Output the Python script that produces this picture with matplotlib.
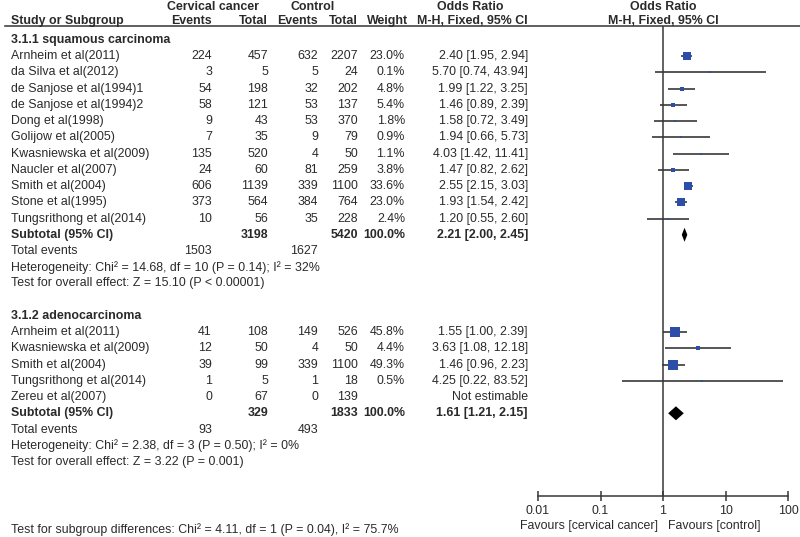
import numpy as np
import matplotlib
matplotlib.use("Agg")
import matplotlib.pyplot as plt
from matplotlib.patches import Polygon

plt.rcParams['font.family'] = ['Liberation Sans', 'DejaVu Sans']

# ---- data: squamous carcinoma
studies_sq = ['Arnheim et al(2011)', 'da Silva et al(2012)', 'de Sanjose et al(1994)1',
              'de Sanjose et al(1994)2', 'Dong et al(1998)', 'Golijow et al(2005)',
              'Kwasniewska et al(2009)', 'Naucler et al(2007)', 'Smith et al(2004)',
              'Stone et al(1995)', 'Tungsrithong et al(2014)']
ev_ca_sq = [224, 3, 54, 58, 9, 7, 135, 24, 606, 373, 10]
tot_ca_sq = [457, 5, 198, 121, 43, 35, 520, 60, 1139, 564, 56]
ev_ct_sq = [632, 5, 32, 53, 53, 9, 4, 81, 339, 384, 35]
tot_ct_sq = [2207, 24, 202, 137, 370, 79, 50, 259, 1100, 764, 228]
weight_sq = [23.0, 0.1, 4.8, 5.4, 1.8, 0.9, 1.1, 3.8, 33.6, 23.0, 2.4]
or_sq = [2.40, 5.70, 1.99, 1.46, 1.58, 1.94, 4.03, 1.47, 2.55, 1.93, 1.20]
lo_sq = [1.95, 0.74, 1.22, 0.89, 0.72, 0.66, 1.42, 0.82, 2.15, 1.54, 0.55]
hi_sq = [2.94, 43.94, 3.25, 2.39, 3.49, 5.73, 11.41, 2.62, 3.03, 2.42, 2.60]
sub_sq = (2.21, 2.00, 2.45)
totals_sq = (3198, 5420)
events_sq = (1503, 1627)
het_sq = 'Heterogeneity: Chi\u00b2 = 14.68, df = 10 (P = 0.14); I\u00b2 = 32%'
eff_sq = 'Test for overall effect: Z = 15.10 (P < 0.00001)'

# ---- data: adenocarcinoma
studies_ad = ['Arnheim et al(2011)', 'Kwasniewska et al(2009)', 'Smith et al(2004)',
              'Tungsrithong et al(2014)', 'Zereu et al(2007)']
ev_ca_ad = [41, 12, 39, 1, 0]
tot_ca_ad = [108, 50, 99, 5, 67]
ev_ct_ad = [149, 4, 339, 1, 0]
tot_ct_ad = [526, 50, 1100, 18, 139]
weight_ad = [45.8, 4.4, 49.3, 0.5, None]
or_ad = [1.55, 3.63, 1.46, 4.25, None]
lo_ad = [1.00, 1.08, 0.96, 0.22, None]
hi_ad = [2.39, 12.18, 2.23, 83.52, None]
sub_ad = (1.61, 1.21, 2.15)
totals_ad = (329, 1833)
events_ad = (93, 493)
het_ad = 'Heterogeneity: Chi\u00b2 = 2.38, df = 3 (P = 0.50); I\u00b2 = 0%'
eff_ad = 'Test for overall effect: Z = 3.22 (P = 0.001)'

subgroup_test = 'Test for subgroup differences: Chi\u00b2 = 4.11, df = 1 (P = 0.04), I\u00b2 = 75.7%'
ticks = [0.01, 0.1, 1, 10, 100]
tick_labels = ['0.01', '0.1', '1', '10', '100']

W, H = 800, 537
fig = plt.figure(figsize=(W / 100, H / 100), dpi=100)
ax = fig.add_axes([0, 0, 1, 1])
ax.set_xlim(0, W)
ax.set_ylim(H, 0)
ax.axis('off')

TXT = '#2a2a2a'
FS = 8.9
BLUE = '#2d4ea8'
LINE = '#383838'

# forest panel, y in same pixel units
top, bot = 26, 496
fx0, fx1 = 538, 788
fax = fig.add_axes([fx0 / W, (H - bot) / H, (fx1 - fx0) / W, (bot - top) / H])
fax.set_xscale('log')
fax.set_xlim(0.01, 100)
fax.set_ylim(bot, top)
fax.patch.set_alpha(0)
for s in ['top', 'left', 'right']:
    fax.spines[s].set_visible(False)
fax.spines['bottom'].set_color(LINE)
fax.spines['bottom'].set_linewidth(1.1)
fax.set_yticks([])
fax.set_xticks(ticks)
fax.set_xticklabels(tick_labels, fontsize=FS, color=TXT)
fax.minorticks_off()
fax.tick_params(axis='x', direction='inout', length=7, width=1.1, color=LINE, pad=3)
fax.axvline(1, color=LINE, lw=1.1)

# column positions (right aligned)
c_ev1, c_tot1, c_ev2, c_tot2, c_w, c_or = 212, 268, 318, 358, 405, 528
xname = 11


def row_y(r):
    return 40 + 16.23 * r


def t(x, r, s, ha='right', bold=False):
    ax.text(x, row_y(r), s, ha=ha, va='center', fontsize=FS, color=TXT,
            fontweight='bold' if bold else 'normal')


def head(x, y, s, ha='center'):
    ax.text(x, y, s, ha=ha, va='center', fontsize=FS, color=TXT, fontweight='bold')


# headers
head(213, 6.5, 'Cervical cancer')
head(313, 6.5, 'Control')
head(470, 6.5, 'Odds Ratio')
head(663, 6.5, 'Odds Ratio')
hy = 21
head(xname, hy, 'Study or Subgroup', ha='left')
head(c_ev1, hy, 'Events', ha='right')
head(c_tot1, hy, 'Total', ha='right')
head(c_ev2, hy, 'Events', ha='right')
head(c_tot2, hy, 'Total', ha='right')
head(c_w + 3, hy, 'Weight', ha='right')
head(c_or, hy, 'M-H, Fixed, 95% CI', ha='right')
head(663, hy, 'M-H, Fixed, 95% CI')
ax.plot([5, 800], [26, 26], color='#444444', lw=1.2)


def section(r0, title, studies, e1, n1, e2, n2, w, orv, lo, hi, sub, totals, events, het, eff):
    t(xname, r0, title, ha='left', bold=True)
    for i, name in enumerate(studies):
        r = r0 + 1 + i
        t(xname, r, name, ha='left')
        t(c_ev1, r, str(e1[i]))
        t(c_tot1, r, str(n1[i]))
        t(c_ev2, r, str(e2[i]))
        t(c_tot2, r, str(n2[i]))
        if orv[i] is None:
            t(c_or, r, 'Not estimable')
            continue
        t(c_w, r, f'{w[i]:.1f}%')
        t(c_or, r, f'{orv[i]:.2f} [{lo[i]:.2f}, {hi[i]:.2f}]')
        y = row_y(r)
        fax.plot([lo[i], hi[i]], [y, y], color=LINE, lw=1.2, solid_capstyle='butt')
        side = max(2.2, 1.55 * np.sqrt(w[i]))
        fax.plot([orv[i]], [y], marker='s', ms=side * 0.72, color=BLUE, mec=BLUE, mew=0)
    r = r0 + 1 + len(studies)
    t(xname, r, 'Subtotal (95% CI)', ha='left', bold=True)
    t(c_tot1, r, str(totals[0]), bold=True)
    t(c_tot2, r, str(totals[1]), bold=True)
    t(c_w, r, '100.0%', bold=True)
    t(c_or, r, f'{sub[0]:.2f} [{sub[1]:.2f}, {sub[2]:.2f}]', bold=True)
    y = row_y(r)
    dh = 7
    fax.add_patch(Polygon([(sub[1], y), (sub[0], y - dh), (sub[2], y), (sub[0], y + dh)],
                          closed=True, color='black', lw=0))
    t(xname, r + 1, 'Total events', ha='left')
    t(c_ev1, r + 1, str(events[0]))
    t(c_ev2, r + 1, str(events[1]))
    t(xname, r + 2, het, ha='left')
    t(xname, r + 3, eff, ha='left')


section(0, '3.1.1 squamous carcinoma', studies_sq, ev_ca_sq, tot_ca_sq, ev_ct_sq, tot_ct_sq,
        weight_sq, or_sq, lo_sq, hi_sq, sub_sq, totals_sq, events_sq, het_sq, eff_sq)
section(17, '3.1.2 adenocarcinoma', studies_ad, ev_ca_ad, tot_ca_ad, ev_ct_ad, tot_ct_ad,
        weight_ad, or_ad, lo_ad, hi_ad, sub_ad, totals_ad, events_ad, het_ad, eff_ad)

ax.text(658, 526.5, 'Favours [cervical cancer]', ha='right', va='center', fontsize=FS, color=TXT)
ax.text(668, 526.5, 'Favours [control]', ha='left', va='center', fontsize=FS, color=TXT)
ax.text(xname, 530, subgroup_test, ha='left', va='center', fontsize=FS, color=TXT)

fig.savefig('out.png', dpi=100)
